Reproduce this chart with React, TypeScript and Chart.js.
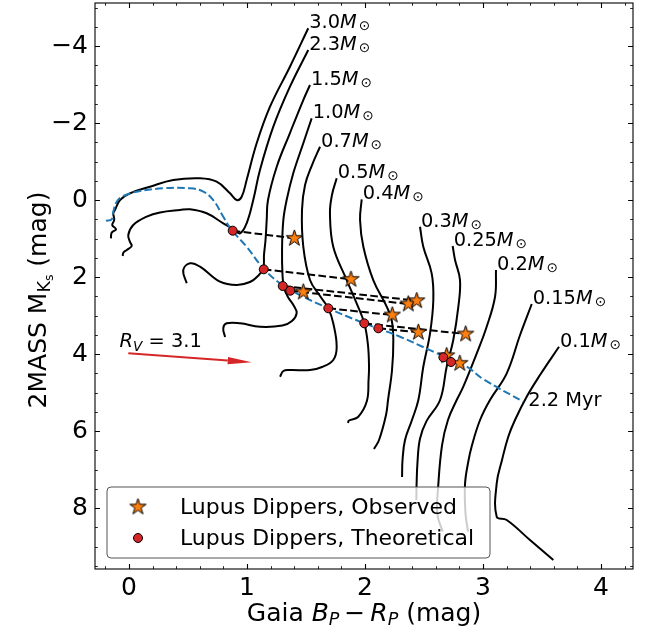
import React, { useEffect, useRef } from 'react';
import { Chart, registerables } from 'chart.js';
Chart.register(...registerables);

const FONT = '"DejaVu Sans", "Liberation Sans", sans-serif';

// ---- axes ----
const xRange = [-0.288, 4.271];
const yRange = [-5.117, 9.584];
const xTickValues = [0, 1, 2, 3, 4];
const yTickValues = [-4, -2, 0, 2, 4, 6, 8];
const xMinorStep = 0.2;
const yMinorStep = 0.5;

// ---- evolutionary tracks (Gaia BP-RP, M_Ks) ----
const trackMasses = ['3.0', '2.3', '1.5', '1.0', '0.7', '0.5', '0.4', '0.3', '0.25', '0.2', '0.15', '0.1'];
const track3_0 = [[1.519, -4.46], [1.364, -3.462], [1.195, -2.423], [1.082, -1.473], [0.997, -0.519], [0.955, -0.086], [0.913, 0.0], [0.856, -0.174], [0.743, -0.475], [0.602, -0.564], [0.375, -0.519], [0.178, -0.345], [0.008, -0.174], [-0.076, 0.0], [-0.119, 0.26], [-0.133, 0.345], [-0.125, 0.519], [-0.142, 0.649], [-0.11, 0.761], [-0.147, 0.849], [-0.153, 0.995]];
const track2_3 = [[1.519, -3.896], [1.364, -2.943], [1.223, -1.904], [1.11, -0.779], [1.053, 0.0], [0.997, 0.605], [0.941, 0.865], [0.884, 0.753], [0.799, 0.605], [0.658, 0.345], [0.517, 0.242], [0.432, 0.26], [0.263, 0.325], [0.15, 0.434], [0.036, 0.649], [-0.006, 0.909], [0.008, 1.083], [0.023, 1.195], [-0.019, 1.299], [-0.048, 1.369], [-0.053, 1.455]];
const track1_5 = [[1.534, -2.987], [1.477, -2.597], [1.364, -1.74], [1.252, -0.865], [1.178, 0.0], [1.167, 0.519], [1.157, 1.039], [1.144, 1.429], [1.138, 1.774], [1.093, 1.974], [1.025, 2.13], [0.913, 2.208], [0.771, 2.122], [0.602, 1.732], [0.517, 1.644], [0.46, 1.818], [0.489, 2.164]];
const track1_0 = [[1.548, -2.122], [1.477, -1.473], [1.392, -0.694], [1.336, 0.0], [1.308, 0.519], [1.297, 1.299], [1.301, 1.948], [1.314, 2.286], [1.347, 2.519], [1.398, 2.753], [1.421, 2.935], [1.381, 3.143], [1.3, 3.26], [1.11, 3.291], [0.941, 3.203], [0.828, 3.203], [0.799, 3.325], [0.814, 3.558]];
const track0_7 = [[1.619, -1.384], [1.551, -0.909], [1.492, -0.39], [1.466, 0.26], [1.477, 1.213], [1.534, 2.078], [1.619, 2.494], [1.689, 2.813], [1.731, 3.203], [1.76, 3.81], [1.731, 4.156], [1.636, 4.338], [1.534, 4.416], [1.364, 4.416], [1.308, 4.442], [1.28, 4.59]];
const track0_5 = [[1.76, -0.564], [1.72, -0.13], [1.703, 0.345], [1.731, 1.213], [1.845, 2.078], [1.924, 2.649], [1.994, 3.203], [2.025, 3.766], [2.034, 4.33], [2.03, 4.675], [2.016, 5.221], [1.941, 5.636], [1.864, 5.727], [1.856, 5.792]];
const track0_4 = [[1.972, -0.018], [1.958, 0.519], [1.986, 1.213], [2.07, 2.078], [2.184, 2.771], [2.226, 3.117], [2.24, 3.636], [2.229, 4.416], [2.195, 5.195], [2.178, 5.584], [2.119, 6.234], [2.076, 6.468]];
const track0_3 = [[2.466, 0.694], [2.494, 1.213], [2.565, 1.904], [2.579, 2.597], [2.551, 3.462], [2.494, 4.33], [2.452, 5.195], [2.398, 5.714], [2.339, 6.234], [2.318, 6.753], [2.314, 7.195]];
const track0_25 = [[2.743, 1.195], [2.763, 1.558], [2.805, 2.078], [2.791, 2.771], [2.748, 3.636], [2.692, 4.33], [2.636, 5.195], [2.52, 5.75], [2.466, 6.2], [2.445, 6.8], [2.437, 7.403], [2.435, 7.79]];
const track0_2 = [[3.11, 1.818], [3.102, 2.512], [3.031, 3.291], [2.947, 3.982], [2.833, 4.849], [2.777, 5.195], [2.703, 5.714], [2.653, 6.364], [2.621, 7.403], [2.613, 8.156], [2.658, 8.613]];
const track0_15 = [[3.413, 2.701], [3.314, 3.506], [3.201, 4.501], [3.059, 5.195], [2.975, 5.714], [2.907, 6.364], [2.873, 6.831], [2.847, 7.403], [2.852, 8.156], [2.873, 8.613]];
const track0_1 = [[3.644, 3.81], [3.483, 4.545], [3.37, 5.109], [3.271, 5.714], [3.214, 6.148], [3.161, 6.753], [3.116, 7.358], [3.116, 8.226], [3.201, 8.312], [3.398, 8.831], [3.596, 9.351]];
const tracks = [track3_0, track2_3, track1_5, track1_0, track0_7, track0_5, track0_4, track0_3, track0_25, track0_2, track0_15, track0_1];

// ---- 2.2 Myr isochrone ----
const isochroneLabel = '2.2 Myr';
const isochrone = [[-0.195, 0.538], [-0.147, 0.501], [-0.133, 0.304], [-0.104, 0.044], [-0.048, -0.104], [0.065, -0.216], [0.291, -0.304], [0.517, -0.304], [0.63, -0.216], [0.714, 0.0], [0.799, 0.434], [0.87, 0.779], [0.997, 1.213], [1.138, 1.774], [1.28, 2.164], [1.449, 2.468], [1.689, 2.813], [1.994, 3.203], [2.297, 3.551], [2.579, 3.94], [2.862, 4.33], [3.0, 4.65], [3.342, 5.239]];

// ---- Lupus dippers ----
const obsBpRp = [1.401, 1.881, 1.477, 2.367, 2.438, 2.231, 2.452, 2.853, 2.692, 2.803];
const obsMKs = [0.995, 2.06, 2.39, 2.701, 2.616, 2.987, 3.436, 3.481, 4.044, 4.242];
const theoBpRp = [0.879, 1.142, 1.303, 1.367, 1.689, 1.994, 2.113, 2.664, 2.729];
const theoMKs = [0.797, 1.8, 2.234, 2.356, 2.813, 3.203, 3.332, 4.086, 4.208];
const pairTheoToObs = [[0, 0], [1, 1], [2, 4], [3, 3], [4, 5], [5, 7], [6, 6], [7, 8], [8, 9]];
const legendLabels = ['Lupus Dippers, Observed', 'Lupus Dippers, Theoretical'];

// ---- reddening vector ----
const arrowStart = [-0.006, 3.982];
const arrowEnd = [1.04, 4.216];
const arrowLabelPos = [-0.08, 3.82];

const ORANGE = '#ff7f0e';
const RED = '#d62728';
const BLUE = '#1f77b4';
const STAR_R = 8.5;

type Part = { t: string; size: number; italic?: boolean; dy?: number; dx?: number };
function fontOf(p: Part) {
  return `${p.italic ? 'italic ' : ''}${p.size}px ${FONT}`;
}
function drawParts(ctx: CanvasRenderingContext2D, parts: Part[], x: number, y: number, align: 'left' | 'center') {
  let w = 0;
  const widths = parts.map((p) => {
    ctx.font = fontOf(p);
    const m = ctx.measureText(p.t).width;
    w += m + (p.dx || 0);
    return m;
  });
  let cx = align === 'center' ? x - w / 2 : x;
  ctx.textAlign = 'left';
  parts.forEach((p, i) => {
    ctx.font = fontOf(p);
    cx += p.dx || 0;
    ctx.fillText(p.t, cx, y + (p.dy || 0));
    cx += widths[i];
  });
}

function starPath(ctx: CanvasRenderingContext2D, cx: number, cy: number, R: number) {
  const r = R * 0.381966;
  ctx.beginPath();
  for (let i = 0; i < 10; i++) {
    const ang = -Math.PI / 2 + (i * Math.PI) / 5;
    const rr = i % 2 === 0 ? R : r;
    const px = cx + rr * Math.cos(ang);
    const py = cy + rr * Math.sin(ang);
    if (i === 0) ctx.moveTo(px, py);
    else ctx.lineTo(px, py);
  }
  ctx.closePath();
}

function makeStarImage() {
  const s = Math.ceil(2 * STAR_R + 4);
  const c = document.createElement('canvas');
  c.width = s;
  c.height = s;
  const g = c.getContext('2d')!;
  starPath(g, s / 2, s / 2, STAR_R);
  g.fillStyle = ORANGE;
  g.fill();
  g.lineWidth = 1;
  g.strokeStyle = '#000';
  g.lineJoin = 'miter';
  g.stroke();
  return c;
}

function minorValues(min: number, max: number, step: number, majors: number[]) {
  const out: number[] = [];
  for (let k = Math.ceil(min / step - 1e-9); k <= Math.floor(max / step + 1e-9); k++) {
    const v = +(k * step).toFixed(6);
    if (!majors.some((m) => Math.abs(m - v) < 1e-6)) out.push(v);
  }
  return out;
}

const fmtTick = (v: number) => (v < 0 ? '\u2212' + Math.abs(v) : String(v));

export default function App() {
  const ref = useRef<HTMLCanvasElement | null>(null);
  useEffect(() => {
    if (!ref.current) return;
    const starImg = makeStarImage();

    const datasets: any[] = [];
    datasets.push({
      label: legendLabels[1],
      data: theoBpRp.map((x, i) => ({ x, y: theoMKs[i] })),
      showLine: false,
      pointRadius: 4.5,
      pointBackgroundColor: RED,
      pointBorderColor: '#000',
      pointBorderWidth: 1,
      order: 0,
    });
    datasets.push({
      label: legendLabels[0],
      data: obsBpRp.map((x, i) => ({ x, y: obsMKs[i] })),
      showLine: false,
      pointStyle: starImg,
      pointRadius: 9,
      order: 1,
    });
    pairTheoToObs.forEach(([ti, oi]) => {
      datasets.push({
        data: [
          { x: theoBpRp[ti], y: theoMKs[ti] },
          { x: obsBpRp[oi], y: obsMKs[oi] },
        ],
        showLine: true,
        borderColor: '#000',
        borderWidth: 2,
        borderDash: [7.7, 3.3],
        pointRadius: 0,
        order: 2,
      });
    });
    datasets.push({
      data: isochrone.map(([x, y]) => ({ x, y })),
      showLine: true,
      borderColor: BLUE,
      borderWidth: 2,
      borderDash: [7.7, 3.3],
      pointRadius: 0,
      tension: 0.4,
      order: 3,
    });
    tracks.forEach((t) => {
      datasets.push({
        data: t.map(([x, y]) => ({ x, y })),
        showLine: true,
        borderColor: '#000',
        borderWidth: 2,
        pointRadius: 0,
        tension: 0.4,
        order: 4,
      });
    });

    const overlay = {
      id: 'overlay',
      afterDatasetsDraw(chart: any) {
        const ctx: CanvasRenderingContext2D = chart.ctx;
        const a = chart.chartArea;
        const xs = chart.scales.x;
        const ys = chart.scales.y;
        ctx.save();
        ctx.fillStyle = '#000';
        ctx.textBaseline = 'alphabetic';
        // mass labels
        tracks.forEach((t, i) => {
          const px = xs.getPixelForValue(t[0][0]) + 1;
          const py = ys.getPixelForValue(t[0][1]);
          drawParts(
            ctx,
            [
              { t: trackMasses[i], size: 19.4 },
              { t: 'M', size: 19.4, italic: true },
              { t: '\u2299', size: 13.6, dy: 2, dx: 2 },
            ],
            px,
            py,
            'left'
          );
        });
        // isochrone label
        const last = isochrone[isochrone.length - 1];
        drawParts(ctx, [{ t: isochroneLabel, size: 19.4 }], xs.getPixelForValue(last[0]) + 5, ys.getPixelForValue(last[1]) + 4, 'left');

        // reddening arrow
        const x0 = xs.getPixelForValue(arrowStart[0]);
        const y0 = ys.getPixelForValue(arrowStart[1]);
        const x1 = xs.getPixelForValue(arrowEnd[0]);
        const y1 = ys.getPixelForValue(arrowEnd[1]);
        const ang = Math.atan2(y1 - y0, x1 - x0);
        const hl = 24;
        const hw = 3.6;
        const bx = x1 - hl * Math.cos(ang);
        const by = y1 - hl * Math.sin(ang);
        ctx.strokeStyle = RED;
        ctx.fillStyle = RED;
        ctx.lineWidth = 2;
        ctx.beginPath();
        ctx.moveTo(x0, y0);
        ctx.lineTo(bx, by);
        ctx.stroke();
        ctx.beginPath();
        ctx.moveTo(x1, y1);
        ctx.lineTo(bx + hw * Math.sin(ang), by - hw * Math.cos(ang));
        ctx.lineTo(bx - hw * Math.sin(ang), by + hw * Math.cos(ang));
        ctx.closePath();
        ctx.fill();
        ctx.fillStyle = '#000';
        drawParts(
          ctx,
          [
            { t: 'R', size: 19.4, italic: true },
            { t: 'V', size: 13.6, italic: true, dy: 4 },
            { t: ' = 3.1', size: 19.4 },
          ],
          xs.getPixelForValue(arrowLabelPos[0]),
          ys.getPixelForValue(arrowLabelPos[1]),
          'left'
        );

        // frame
        ctx.strokeStyle = '#000';
        ctx.lineWidth = 1.1;
        ctx.strokeRect(a.left, a.top, a.right - a.left, a.bottom - a.top);
        // inward ticks on all sides
        const tick = (vals: number[], len: number, lw: number, horiz: boolean) => {
          ctx.lineWidth = lw;
          ctx.beginPath();
          vals.forEach((v) => {
            if (horiz) {
              const p = Math.round(xs.getPixelForValue(v)) + 0.5;
              ctx.moveTo(p, a.bottom);
              ctx.lineTo(p, a.bottom - len);
              ctx.moveTo(p, a.top);
              ctx.lineTo(p, a.top + len);
            } else {
              const p = Math.round(ys.getPixelForValue(v)) + 0.5;
              ctx.moveTo(a.left, p);
              ctx.lineTo(a.left + len, p);
              ctx.moveTo(a.right, p);
              ctx.lineTo(a.right - len, p);
            }
          });
          ctx.stroke();
        };
        tick(xTickValues, 4.9, 1.1, true);
        tick(yTickValues, 4.9, 1.1, false);
        tick(minorValues(xRange[0], xRange[1], xMinorStep, xTickValues), 2.8, 0.85, true);
        tick(minorValues(yRange[0], yRange[1], yMinorStep, yTickValues), 2.8, 0.85, false);

        // axis titles
        ctx.fillStyle = '#000';
        drawParts(
          ctx,
          [
            { t: 'Gaia ', size: 25 },
            { t: 'B', size: 25, italic: true },
            { t: 'P', size: 17.5, italic: true, dy: 4 },
            { t: '\u2212', size: 25, dx: 5 },
            { t: 'R', size: 25, italic: true, dx: 5 },
            { t: 'P', size: 17.5, italic: true, dy: 4 },
            { t: ' (mag)', size: 25 },
          ],
          (a.left + a.right) / 2,
          621,
          'center'
        );
        ctx.save();
        ctx.translate(46, 300);
        ctx.rotate(-Math.PI / 2);
        drawParts(
          ctx,
          [
            { t: '2MASS M', size: 25 },
            { t: 'K', size: 17.5, dy: 4 },
            { t: 's', size: 12.5, dy: 7 },
            { t: ' (mag)', size: 25 },
          ],
          0,
          0,
          'center'
        );
        ctx.restore();
        ctx.restore();
      },
      afterDraw(chart: any) {
        const ctx: CanvasRenderingContext2D = chart.ctx;
        ctx.save();
        // legend box
        const lx = 107, ly = 487, lw = 383, lh = 71, r = 4;
        ctx.beginPath();
        ctx.moveTo(lx + r, ly);
        ctx.lineTo(lx + lw - r, ly);
        ctx.quadraticCurveTo(lx + lw, ly, lx + lw, ly + r);
        ctx.lineTo(lx + lw, ly + lh - r);
        ctx.quadraticCurveTo(lx + lw, ly + lh, lx + lw - r, ly + lh);
        ctx.lineTo(lx + r, ly + lh);
        ctx.quadraticCurveTo(lx, ly + lh, lx, ly + lh - r);
        ctx.lineTo(lx, ly + r);
        ctx.quadraticCurveTo(lx, ly, lx + r, ly);
        ctx.closePath();
        ctx.fillStyle = 'rgba(255,255,255,0.8)';
        ctx.fill();
        ctx.strokeStyle = '#555';
        ctx.lineWidth = 1;
        ctx.stroke();
        // markers
        ctx.drawImage(starImg, 138 - starImg.width / 2, 507 - starImg.height / 2);
        ctx.beginPath();
        ctx.arc(138, 538, 4.5, 0, Math.PI * 2);
        ctx.fillStyle = RED;
        ctx.fill();
        ctx.strokeStyle = '#000';
        ctx.lineWidth = 1;
        ctx.stroke();
        ctx.fillStyle = '#000';
        ctx.textBaseline = 'middle';
        ctx.textAlign = 'left';
        ctx.font = `22px ${FONT}`;
        ctx.fillText(legendLabels[0], 180, 508);
        ctx.fillText(legendLabels[1], 180, 539);
        ctx.restore();
      },
    };

    const chart = new Chart(ref.current, {
      type: 'scatter',
      data: { datasets },
      plugins: [overlay],
      options: {
        responsive: false,
        animation: false,
        events: [],
        layout: { autoPadding: false, padding: { left: 0, top: 3, right: 16, bottom: 0 } },
        plugins: { legend: { display: false }, tooltip: { enabled: false } },
        scales: {
          x: {
            type: 'linear',
            min: xRange[0],
            max: xRange[1],
            afterBuildTicks: (s: any) => {
              s.ticks = xTickValues.map((v) => ({ value: v }));
            },
            afterFit: (s: any) => {
              s.height = 65;
              s.paddingLeft = 0;
              s.paddingRight = 0;
            },
            grid: { display: false, drawTicks: false },
            border: { display: false },
            ticks: {
              autoSkip: false,
              maxRotation: 0,
              padding: 4,
              color: '#000',
              font: { family: FONT, size: 25 },
              callback: (v: any) => fmtTick(Number(v)),
            },
          },
          y: {
            type: 'linear',
            reverse: true,
            min: yRange[0],
            max: yRange[1],
            afterBuildTicks: (s: any) => {
              s.ticks = yTickValues.map((v) => ({ value: v }));
            },
            afterFit: (s: any) => {
              s.width = 95;
              s.paddingTop = 0;
              s.paddingBottom = 0;
            },
            grid: { display: false, drawTicks: false },
            border: { display: false },
            ticks: {
              autoSkip: false,
              padding: 7,
              color: '#000',
              font: { family: FONT, size: 25 },
              callback: (v: any) => fmtTick(Number(v)),
            },
          },
        },
      },
    } as any);
    return () => chart.destroy();
  }, []);

  return (
    <div style={{ position: 'absolute', left: 0, top: 0, width: 649, height: 634, background: '#fff' }}>
      <canvas ref={ref} width={649} height={634} style={{ width: 649, height: 634, display: 'block' }} />
    </div>
  );
}
